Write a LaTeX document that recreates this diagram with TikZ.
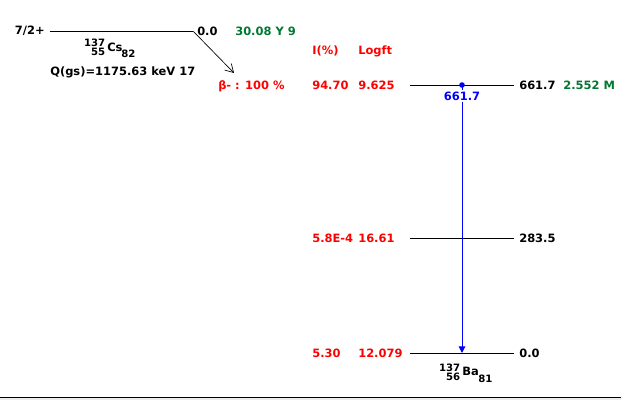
\documentclass[tikz,border=0pt]{standalone}
\usepackage{fontspec}
\setmainfont{DejaVu Sans}
\usetikzlibrary{arrows.meta}
\definecolor{dgreen}{RGB}{0,120,50}
\definecolor{lred}{RGB}{255,0,0}
\begin{document}
\begin{tikzpicture}[x=0.75pt,y=-0.75pt,
  txt/.style={inner sep=0pt,font=\fontsize{8.6}{10}\selectfont\bfseries},
  nuc/.style={inner sep=0pt,font=\fontsize{7.6}{9}\selectfont\bfseries},
  red/.style={txt,text=lred},
  grn/.style={txt,text=dgreen},
  lvl/.style={draw=black,line width=0.75pt},
  gam/.style={draw=blue,line width=0.75pt,-{Triangle[length=5pt,width=5pt]}}]
\useasboundingbox (0,0) rectangle (621,400);
\fill[gray!15] (0,397) rectangle (621,400);
\draw[line width=0.75pt] (0,397) coordinate (bl) -- (621,397) coordinate (br);
% parent
\coordinate (p1) at (50,31);
\coordinate (p2) at (193,31);
\draw[lvl] (p1) -- (p2);
\node[txt,anchor=east] (spin) at (45,31) {7/2+};
\node[txt,anchor=west] (pe) at (197,31) {0.0};
\node[grn,anchor=west] (hl) at (235,31) {30.08 Y 9};
\node[nuc,anchor=east] (csA) at (105.5,43) {137};
\node[nuc,anchor=east] (csZ) at (105.5,52) {55};
\node[txt,anchor=west] (csX) at (107,47.5) {Cs};
\node[nuc,anchor=west] (csN) at (121,54) {82};
\node[txt,anchor=west] (q) at (50,72) {Q(gs)=1175.63 keV 17};
\coordinate (ae) at (234,73);
\draw[-{Straight Barb[length=6pt,width=7pt]},line width=0.5pt] (p2) -- (ae);
\node[red,anchor=west] (br1) at (218,86) {β- : 100 \%};
\node[red,anchor=west] (ih) at (312,51) {I(\%)};
\node[red,anchor=west] (lh) at (358,51) {Logft};
% levels
\foreach \n/\y in {a/85,b/238,c/353}{
  \coordinate (\n L) at (410,\y);
  \coordinate (\n R) at (514,\y);
  \draw[lvl] (\n L) -- (\n R);
}
\node[red,anchor=west] (i1) at (312,85) {94.70};
\node[red,anchor=west] (l1) at (358,85) {9.625};
\node[red,anchor=west] (i2) at (312,238) {5.8E-4};
\node[red,anchor=west] (l2) at (358,238) {16.61};
\node[red,anchor=west] (i3) at (312,353) {5.30};
\node[red,anchor=west] (l3) at (358,353) {12.079};
\node[txt,anchor=west] (e1) at (519,85) {661.7};
\node[grn,anchor=west] (t1) at (563,85) {2.552 M};
\node[txt,anchor=west] (e2) at (519,238) {283.5};
\node[txt,anchor=west] (e3) at (519,353) {0.0};
% gamma
\coordinate (gtop) at (462,85);
\coordinate (gbot) at (462,353);
\draw[gam] (gtop) -- (gbot);
\fill[blue] (gtop) circle (2.8);
\node[txt,text=blue,fill=white,inner sep=1pt] (gl) at (462,96) {661.7};
\node[nuc,anchor=east] (baA) at (460.5,368) {137};
\node[nuc,anchor=east] (baZ) at (460.5,377) {56};
\node[txt,anchor=west] (baX) at (462,371.5) {Ba};
\node[nuc,anchor=west] (baN) at (478,379) {81};
\end{tikzpicture}
\end{document}
